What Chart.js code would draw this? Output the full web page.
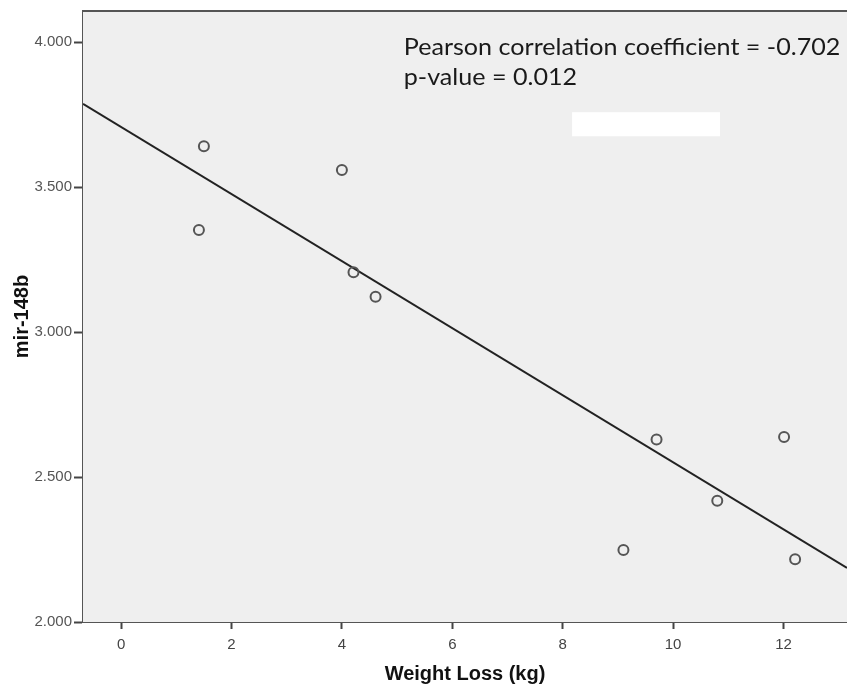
<!DOCTYPE html>
<html>
<head>
<meta charset="utf-8">
<script src="https://cdn.jsdelivr.net/npm/chart.js@4.4.0/dist/chart.umd.min.js"></script>
<style>
  html, body { margin: 0; padding: 0; background: #ffffff; }
  #wrap { width: 847px; height: 686px; position: relative; }
</style>
</head>
<body>
<div id="wrap"><canvas id="scatterChart"></canvas></div>
<script>
// data
const weightLoss = [1.50, 1.41, 4.00, 4.21, 4.61, 9.70, 12.01, 10.80, 9.10, 12.21];
const mir148b = [3.641, 3.352, 3.559, 3.206, 3.122, 2.629, 2.638, 2.418, 2.248, 2.216];
const xTicks = [0, 2, 4, 6, 8, 10, 12];
const yTicks = [2.0, 2.5, 3.0, 3.5, 4.0];
const statLines = ['Pearson correlation coefficient = -0.702', 'p-value = 0.012'];

const X_MIN = -0.69, X_MAX = 13.15;
const Y_MIN = 2.0, Y_MAX = 4.107;

// least squares fit line
function fitLine(xs, ys) {
    const n = xs.length;
    const mx = xs.reduce((a, b) => a + b, 0) / n;
    const my = ys.reduce((a, b) => a + b, 0) / n;
    let sxy = 0, sxx = 0;
    for (let i = 0; i < n; i++) {
        sxy += (xs[i] - mx) * (ys[i] - my);
        sxx += (xs[i] - mx) * (xs[i] - mx);
    }
    const slope = sxy / sxx;
    return { slope: slope, icpt: my - slope * mx };
}
const fit = fitLine(weightLoss, mir148b);
const fitPoints = [X_MIN, X_MAX].map(x => ({ x: x, y: fit.icpt + fit.slope * x }));

const points = weightLoss.map((x, i) => ({ x: x, y: mir148b[i] }));

// plot background, top border, stats text and the white box
const panelPlugin = {
    id: 'panel',
    beforeDatasetsDraw(chart) {
        const { ctx, chartArea: a } = chart;
        ctx.save();
        ctx.fillStyle = '#efefef';
        ctx.fillRect(a.left, a.top, a.right - a.left, a.bottom - a.top);
        ctx.restore();
    },
    afterDraw(chart) {
        const { ctx, chartArea: a, scales } = chart;
        ctx.save();
        ctx.strokeStyle = '#555555';
        ctx.lineWidth = 2;
        ctx.beginPath();
        ctx.moveTo(a.left, a.top);
        ctx.lineTo(a.right, a.top);
        ctx.stroke();
        ctx.restore();

        // stats text, nudged to the same span as the original (Calibri is not installed)
        const tx = scales.x.getPixelForValue(5.12);
        const tx1 = scales.x.getPixelForValue(13.03);
        ctx.save();
        ctx.fillStyle = '#1a1a1a';
        ctx.font = '24px Lato';
        ctx.textBaseline = 'alphabetic';
        ctx.textAlign = 'left';
        const sx = (tx1 - tx) / ctx.measureText(statLines[0]).width;
        ctx.translate(tx, 0);
        ctx.scale(sx, 1);
        ctx.fillText(statLines[0], 0, scales.y.getPixelForValue(3.955));
        ctx.fillText(statLines[1], 0, scales.y.getPixelForValue(3.852));
        ctx.restore();

        ctx.save();
        ctx.fillStyle = '#ffffff';
        const bx0 = scales.x.getPixelForValue(8.17), bx1 = scales.x.getPixelForValue(10.85);
        const by0 = scales.y.getPixelForValue(3.758), by1 = scales.y.getPixelForValue(3.675);
        ctx.fillRect(bx0, by0, bx1 - bx0, by1 - by0);
        ctx.restore();
    }
};

function initChart() {
    if (typeof Chart === 'undefined') {
        console.warn('Chart.js not loaded.');
        return;
    }
    const ctx = document.getElementById('scatterChart');
    new Chart(ctx, {
        type: 'scatter',
        data: {
            datasets: [
                {
                    label: 'fit',
                    type: 'line',
                    data: fitPoints,
                    borderColor: '#222222',
                    borderWidth: 2,
                    pointRadius: 0,
                    fill: false,
                    order: 2
                },
                {
                    label: 'mir-148b',
                    data: points,
                    pointRadius: 5,
                    pointBorderWidth: 2,
                    pointBorderColor: '#555555',
                    pointBackgroundColor: 'rgba(0,0,0,0)',
                    order: 1
                }
            ]
        },
        options: {
            responsive: true,
            maintainAspectRatio: false,
            animation: false,
            layout: { autoPadding: false, padding: { top: 11, right: 0, left: 0, bottom: 0 } },
            plugins: { legend: { display: false }, tooltip: { enabled: false } },
            scales: {
                x: {
                    type: 'linear',
                    min: X_MIN, max: X_MAX,
                    afterFit: s => { s.height = 64; s.paddingLeft = 0; s.paddingRight = 0; },
                    afterBuildTicks: s => { s.ticks = xTicks.map(v => ({ value: v })); },
                    border: { display: true, color: '#555555', width: 2 },
                    grid: { drawOnChartArea: false, drawTicks: true, tickLength: 7, tickWidth: 2, tickColor: '#444444' },
                    ticks: { color: '#444444', font: { family: 'Liberation Sans', size: 15 }, padding: 7, maxRotation: 0 },
                    title: {
                        display: true, text: 'Weight Loss (kg)', color: '#111111',
                        font: { family: 'Liberation Sans', size: 20, weight: 'bold' },
                        padding: { top: 0, bottom: 0 }
                    }
                },
                y: {
                    type: 'linear',
                    min: Y_MIN, max: Y_MAX,
                    afterFit: s => { s.width = 83; s.paddingTop = 0; s.paddingBottom = 0; },
                    afterBuildTicks: s => { s.ticks = yTicks.map(v => ({ value: v })); },
                    border: { display: true, color: '#555555', width: 2 },
                    grid: { drawOnChartArea: false, drawTicks: true, tickLength: 9, tickWidth: 2, tickColor: '#444444' },
                    ticks: {
                        color: '#555555', font: { family: 'Liberation Sans', size: 15 }, padding: 2,
                        callback: v => Number(v).toFixed(3)
                    },
                    title: {
                        display: true, text: 'mir-148b', color: '#111111',
                        font: { family: 'Liberation Sans', size: 20, weight: 'bold' },
                        padding: { top: 10, bottom: 0 }
                    }
                }
            }
        },
        plugins: [panelPlugin]
    });
}

document.addEventListener('DOMContentLoaded', initChart);
</script>
</body>
</html>
